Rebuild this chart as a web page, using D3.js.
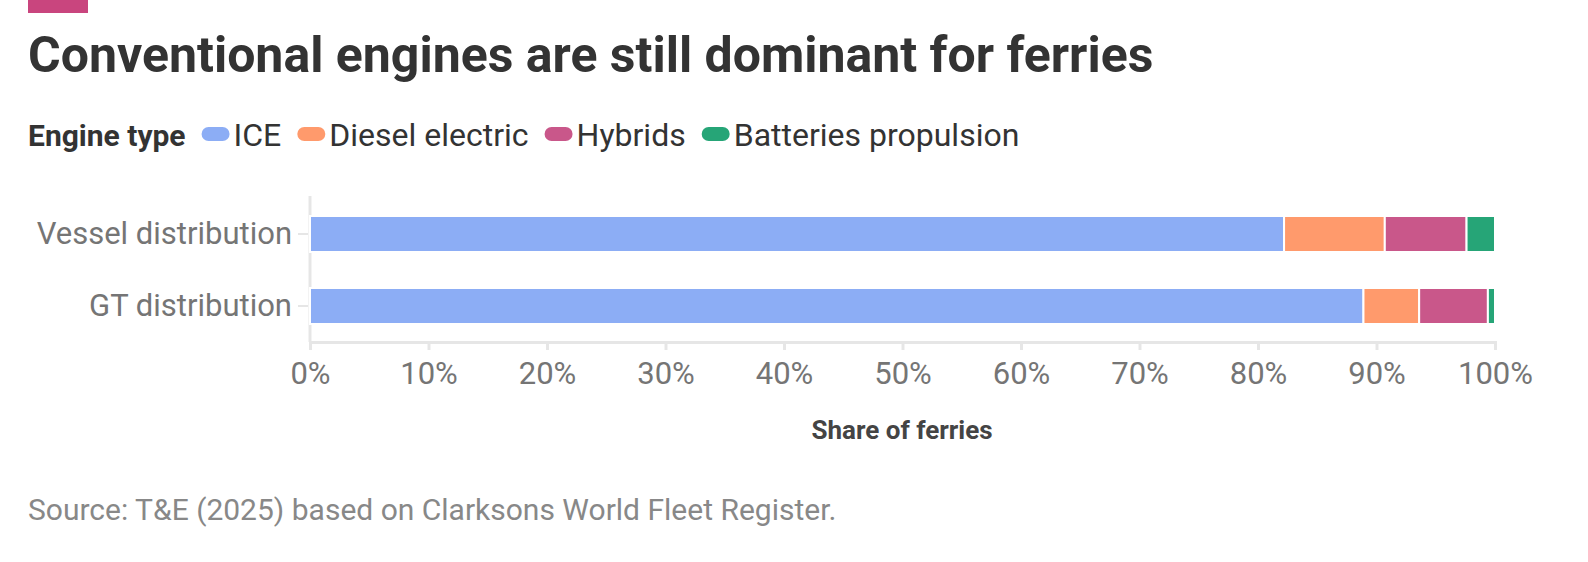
<!DOCTYPE html>
<html><head><meta charset="utf-8">
<script src="https://cdn.jsdelivr.net/npm/d3@7"></script>
<style>body{margin:0;background:#fff;font-family:Roboto,sans-serif}</style>
</head><body><svg id="c" width="1588" height="562"></svg>
<script>
const categories = ["Vessel distribution","GT distribution"];
const seriesNames = ["ICE","Diesel electric","Hybrids","Batteries propulsion"];
const ICE = [82.2, 88.9];
const dieselElectric = [8.5, 4.7];
const hybrids = [6.9, 5.8];
const batteries = [2.4, 0.6];
const colors = ["#8cadf5","#ff9a6c","#c9578a","#26a577"];
const tickValues = [0,10,20,30,40,50,60,70,80,90,100];

const svg = d3.select("#c");
svg.append("rect").attr("x",28).attr("y",0).attr("width",60).attr("height",13).attr("fill","#c9457e");
svg.append("text").attr("x",28).attr("y",72).attr("font-size",50).attr("font-weight",700).attr("fill","#333")
  .text("Conventional engines are still dominant for ferries");

const lg = svg.append("g").attr("font-size",32).attr("fill","#333");
const lt = lg.append("text").attr("x",28).attr("y",146).attr("font-size",30).attr("font-weight",700).attr("fill","#333").text("Engine type");
let lx = 28 + lt.node().getComputedTextLength() + 16;
seriesNames.forEach((n,i)=>{
  lg.append("rect").attr("x",lx).attr("y",127).attr("width",28).attr("height",14).attr("rx",7).attr("fill",colors[i]);
  const t = lg.append("text").attr("x",lx+32).attr("y",146).attr("fill","#333").text(n);
  lx += 32 + t.node().getComputedTextLength() + 16;
});

const x = d3.scaleLinear().domain([0,100]).range([310,1495]);
const y = d3.scaleBand().domain(categories).range([198,342]).paddingInner(0.5).paddingOuter(0.25);

const data = categories.map((c,i)=>({cat:c, ICE:ICE[i], "Diesel electric":dieselElectric[i], Hybrids:hybrids[i], "Batteries propulsion":batteries[i]}));
const stack = d3.stack().keys(seriesNames)(data);

const ax = svg.append("g").attr("transform","translate(0,342)")
  .call(d3.axisBottom(x).tickValues(tickValues).tickFormat(d=>d+"%").tickSize(8).tickPadding(12));
ax.selectAll("path,line").attr("stroke","#e6e6e6").attr("stroke-width",3);
ax.selectAll("text").attr("font-size",31).attr("fill","#757575").attr("font-family","Roboto");
svg.append("line").attr("x1",310).attr("x2",310).attr("y1",196).attr("y2",342).attr("stroke","#e6e6e6").attr("stroke-width",3);

const ay = svg.append("g").attr("transform","translate(310,0)").call(d3.axisLeft(y).tickSize(10).tickPadding(8));
ay.select("path").remove();
ay.selectAll("line").attr("stroke","#e6e6e6").attr("stroke-width",2).attr("transform","translate(-2,0)");
ay.selectAll("text").attr("font-size",31).attr("fill","#757575").attr("font-family","Roboto");

svg.append("g").selectAll("g").data(stack).join("g").attr("fill",(d,i)=>colors[i])
  .selectAll("rect").data(d=>d).join("rect")
  .attr("x",d=>x(d[0])).attr("width",d=>x(d[1])-x(d[0]))
  .attr("y",d=>y(d.data.cat)).attr("height",y.bandwidth())
  .attr("stroke","#fff").attr("stroke-width",2);

svg.append("text").attr("x",902).attr("y",439).attr("text-anchor","middle").attr("font-size",26).attr("font-weight",700).attr("fill","#444").text("Share of ferries");
svg.append("text").attr("x",28).attr("y",520).attr("font-size",30).attr("fill","#888").text("Source: T&E (2025) based on Clarksons World Fleet Register.");
</script></body></html>
